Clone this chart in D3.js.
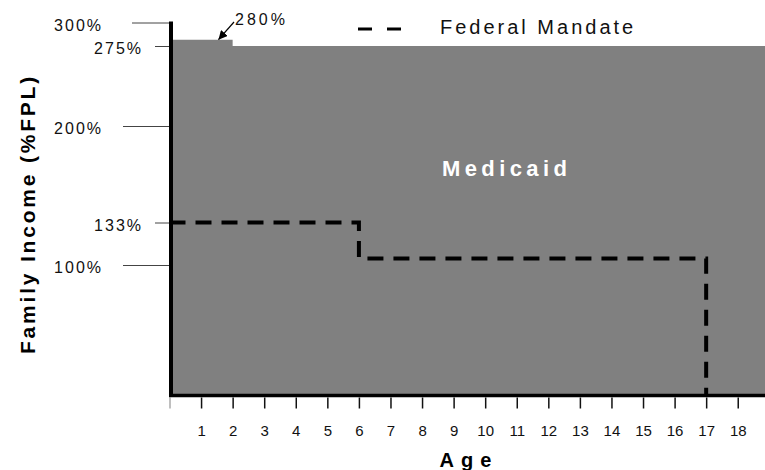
<!DOCTYPE html>
<html>
<head>
<meta charset="utf-8">
<script src="https://cdn.jsdelivr.net/npm/d3@7"></script>
<style>
  body { margin: 0; background: #fff; }
  svg { display: block; font-family: Arial, "Liberation Sans", sans-serif; }
</style>
</head>
<body>
<div id="chart"></div>
<script>
// ages shown on the x axis
const ages = d3.range(0, 19);
// Medicaid eligibility (%FPL) by age, step after
const medicaidAges = [0, 2, 19];
const medicaidFpl = [280, 275, 275];
// federal mandate (%FPL) by age, step after
const mandateAges = [0, 6, 17];
const mandateFpl = [133, 105, 0];
// y axis tick groups
const yMajor = [200, 100];
const yTop = [300];
const yMinor = [275, 133];

const width = 765, height = 470;
const margin = { top: 22, right: 0, bottom: 75, left: 170 };

const svg = d3.select("#chart").append("svg")
  .attr("width", width)
  .attr("height", height);

const x = d3.scaleLinear().domain([0, 19]).range([169.5, 769.3]);
// the original y axis is schematic, not linear: map the labelled levels
const y = d3.scaleLinear()
  .domain([0, 100, 133, 200, 275, 280, 300])
  .range([395, 265, 222.5, 126, 46, 39.7, 22.5]);

const medicaid = medicaidAges.map((a, i) => ({ age: a, fpl: medicaidFpl[i] }));
const mandate = mandateAges.map((a, i) => ({ age: a, fpl: mandateFpl[i] }));

// grey Medicaid area
svg.append("path")
  .datum(medicaid)
  .attr("fill", "#808080")
  .attr("d", d3.area()
    .curve(d3.curveStepAfter)
    .x(d => x(d.age))
    .y0(y(0))
    .y1(d => y(d.fpl)));

svg.append("text")
  .attr("x", 442)
  .attr("y", 176)
  .attr("fill", "#fff")
  .attr("font-weight", "bold")
  .attr("font-size", 22)
  .attr("letter-spacing", 4.4)
  .text("Medicaid");

// federal mandate dashed step line
svg.append("path")
  .datum(mandate)
  .attr("fill", "none")
  .attr("stroke", "#000")
  .attr("stroke-width", 4)
  .attr("stroke-dasharray", "16,10")
  .attr("d", d3.line()
    .curve(d3.curveStepAfter)
    .x(d => x(d.age))
    .y(d => y(d.fpl)));

// y axis ticks, three groups with different tick lengths
const yGroups = [
  { values: yTop, size: 38, pad: 29 },
  { values: yMajor, size: 47, pad: 20 },
  { values: yMinor, size: 15, pad: 12 }
];
yGroups.forEach(gr => {
  const g = svg.append("g")
    .attr("transform", `translate(${margin.left},0)`)
    .call(d3.axisLeft(y).tickValues(gr.values).tickSize(gr.size).tickPadding(gr.pad)
      .tickFormat(d => d + "%"))
    .attr("font-family", null)
    .attr("font-size", null);
  g.select(".domain").remove();
  g.selectAll(".tick line").attr("stroke", "#444");
  g.selectAll(".tick text")
    .attr("font-size", 16)
    .attr("letter-spacing", 2)
    .attr("fill", "#111")
    .attr("dy", "0.47em");
});

// x axis ticks below the baseline
const xg = svg.append("g")
  .attr("transform", `translate(0,397.5)`)
  .call(d3.axisBottom(x).tickValues(ages).tickSize(11)
    .tickFormat(d => d === 0 ? "" : d))
  .attr("font-family", null)
  .attr("font-size", null);
xg.select(".domain").remove();
xg.selectAll(".tick line")
  .attr("stroke", d => d === 0 ? "#aaa" : "#111")
  .attr("stroke-width", 1.5);
xg.selectAll(".tick text")
  .attr("y", 38.5)
  .attr("dy", 0)
  .attr("font-size", 15)
  .attr("fill", "#111");

// heavy axis lines
svg.append("line")
  .attr("x1", 171).attr("x2", 171)
  .attr("y1", y(300) - 1).attr("y2", 397)
  .attr("stroke", "#000").attr("stroke-width", 4);
svg.append("line")
  .attr("x1", 169).attr("x2", width)
  .attr("y1", 395.5).attr("y2", 395.5)
  .attr("stroke", "#000").attr("stroke-width", 3.5);

// axis titles
svg.append("text")
  .attr("transform", "translate(35,214) rotate(-90)")
  .attr("text-anchor", "middle")
  .attr("font-weight", "bold")
  .attr("font-size", 21)
  .attr("letter-spacing", 2.8)
  .text("Family Income (%FPL)");

svg.append("text")
  .attr("x", 469)
  .attr("y", 467)
  .attr("text-anchor", "middle")
  .attr("font-weight", "bold")
  .attr("font-size", 20)
  .attr("letter-spacing", 7)
  .text("Age");

// legend
svg.append("line")
  .attr("x1", 358).attr("x2", 402)
  .attr("y1", 29).attr("y2", 29)
  .attr("stroke", "#000").attr("stroke-width", 3)
  .attr("stroke-dasharray", "14,15");
svg.append("text")
  .attr("x", 440)
  .attr("y", 34)
  .attr("font-size", 20)
  .attr("letter-spacing", 3)
  .attr("fill", "#111")
  .text("Federal Mandate");

// 280% annotation with arrow
svg.append("defs").append("marker")
  .attr("id", "arrow")
  .attr("viewBox", "0 0 10 10")
  .attr("refX", 10).attr("refY", 5)
  .attr("markerWidth", 9).attr("markerHeight", 9)
  .attr("markerUnits", "userSpaceOnUse")
  .attr("orient", "auto")
  .append("path")
  .attr("d", "M0,0L10,5L0,10Z")
  .attr("fill", "#000");
svg.append("line")
  .attr("x1", 234).attr("y1", 22)
  .attr("x2", x(1.55)).attr("y2", y(280))
  .attr("stroke", "#000").attr("stroke-width", 1.2)
  .attr("marker-end", "url(#arrow)");
svg.append("text")
  .attr("x", 235)
  .attr("y", 25)
  .attr("font-size", 16)
  .attr("letter-spacing", 3)
  .attr("fill", "#111")
  .text("280%");
</script>
</body>
</html>
